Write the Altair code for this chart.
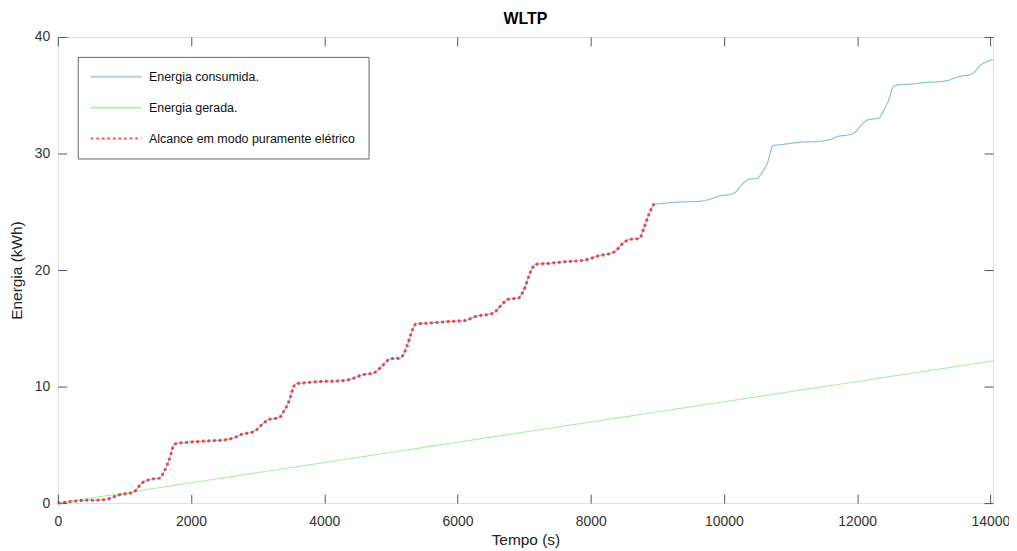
import altair as alt
import pandas as pd

# ---- data ----
tempo_consumida = [0, 55, 254, 404, 628, 778, 927, 1050, 1127, 1276, 1401, 1526, 1600, 1675, 1750, 1800,
                   1899, 2199, 2498, 2647, 2747, 2946, 3096, 3171, 3320, 3395, 3470, 3545, 3580,
                   3694, 3919, 4218, 4417, 4567, 4742, 4866, 4991, 5141, 5240, 5315, 5380,
                   5564, 5863, 6112, 6262, 6536, 6661, 6761, 6910, 6985, 7110, 7170,
                   7359, 7608, 7907, 8107, 8356, 8481, 8581, 8730, 8805, 8880, 8955, 9000,
                   9054, 9353, 9602, 9801, 9926, 10076, 10176, 10275, 10375, 10500, 10575, 10649, 10739,
                   10874, 10948, 11148, 11397, 11596, 11721, 11871, 11970, 12070, 12170, 12320, 12395, 12469, 12544, 12594,
                   12793, 13042, 13217, 13341, 13466, 13591, 13690, 13765, 13840, 13940, 14015, 14040]
energia_consumida = [0, 0.03, 0.17, 0.24, 0.26, 0.40, 0.71, 0.82, 0.91, 1.77, 2.05, 2.14, 2.76, 3.76, 5.04, 5.13,
                     5.19, 5.32, 5.42, 5.61, 5.87, 6.15, 6.89, 7.18, 7.32, 7.89, 8.74, 10.03, 10.26,
                     10.31, 10.43, 10.48, 10.66, 11.0, 11.17, 11.74, 12.37, 12.45, 13.44, 14.73, 15.38,
                     15.44, 15.58, 15.67, 16.0, 16.3, 17.0, 17.5, 17.58, 18.15, 20.0, 20.49,
                     20.57, 20.71, 20.85, 21.2, 21.56, 22.28, 22.62, 22.71, 23.7, 24.85, 25.64, 25.67,
                     25.70, 25.84, 25.88, 26.1, 26.35, 26.47, 26.69, 27.38, 27.78, 27.87, 28.40, 29.12, 30.68,
                     30.77, 30.83, 30.97, 31.03, 31.2, 31.48, 31.6, 31.82, 32.48, 32.91, 33.02, 33.68, 34.53, 35.75, 35.87,
                     35.95, 36.1, 36.15, 36.24, 36.47, 36.67, 36.75, 37.0, 37.52, 37.86, 38.03, 38.05]

tempo_gerada = [0, 6610, 14040]
energia_gerada = [0, 5.75, 12.2]

limite_eletrico = 9000  # end of the pure-electric range (s)

series = ["Energia consumida.", "Energia gerada.", "Alcance em modo puramente elétrico"]
cores = ["#8cbfe6", "#90ee90", "#ff0000"]
x_ticks = [0, 2000, 4000, 6000, 8000, 10000, 12000, 14000]
y_ticks = [0, 10, 20, 30, 40]

W, H = 939, 468
FONT = "Liberation Sans"

df_cons = pd.DataFrame({"t": tempo_consumida, "e": energia_consumida, "serie": series[0]})
df_ger = pd.DataFrame({"t": tempo_gerada, "e": energia_gerada, "serie": series[1]})
df_ele = df_cons[df_cons["t"] <= limite_eletrico].assign(serie=series[2])

xs = alt.Scale(domain=[0, 14040], nice=False, zero=False)
ys = alt.Scale(domain=[0, 40], nice=False)

legend_cfg = alt.Legend(
    title=None, orient="none", legendX=20, legendY=20,
    fillColor="white", strokeColor="#666666", padding=13,
    symbolType="M-4.25,0H4.25", symbolSize=144, symbolOffset=18.5, symbolStrokeWidth=2,
    labelOffset=26, rowPadding=17, labelFontSize=12.5, labelFont=FONT,
    labelColor="#111111", cornerRadius=0, labelLimit=400)

color_enc = alt.Color("serie:N", scale=alt.Scale(domain=series, range=cores), legend=legend_cfg)
dash_enc = alt.StrokeDash("serie:N", scale=alt.Scale(domain=series, range=[[1, 0], [1, 0], [2.6, 3.0]]),
                          legend=legend_cfg)

tick_style = dict(tickColor="#555555", tickSize=9, labels=False, domain=False, title=None, grid=False)

blue = alt.Chart(df_cons).mark_line(interpolate="monotone", strokeWidth=1.2).encode(
    x=alt.X("t:Q", scale=xs, axis=alt.Axis(orient="bottom", values=x_ticks, ticks=False, domain=False,
                                           grid=False, labelFontSize=14, labelPadding=11, labelFont=FONT,
                                           labelColor="#333333", title="Tempo (s)", titleFontSize=15.5,
                                           titleFontWeight="normal", titleFont=FONT, titleColor="#222222",
                                           titlePadding=5, labelFlush=False, format="d")),
    y=alt.Y("e:Q", scale=ys, axis=alt.Axis(orient="left", values=y_ticks, ticks=False, domain=False,
                                           grid=False, labelFontSize=14, labelPadding=8, labelFont=FONT,
                                           labelColor="#333333", title="Energia (kWh)", titleFontSize=15.5,
                                           titleFontWeight="normal", titleFont=FONT, titleColor="#222222",
                                           titlePadding=10, labelFlush=False)),
    color=color_enc, strokeDash=dash_enc,
)

green = alt.Chart(df_ger).mark_line(strokeWidth=1.0).encode(
    x=alt.X("t:Q", scale=xs, axis=alt.Axis(orient="top", offset=-H, values=x_ticks, **tick_style)),
    y=alt.Y("e:Q", scale=ys, axis=alt.Axis(orient="right", offset=-W, values=y_ticks, **tick_style)),
    color=color_enc, strokeDash=dash_enc,
)

red = alt.Chart(df_ele).mark_line(interpolate="monotone", opacity=0.7, strokeWidth=3).encode(
    x=alt.X("t:Q", scale=xs, axis=alt.Axis(orient="bottom", offset=-H, values=x_ticks, **tick_style)),
    y=alt.Y("e:Q", scale=ys, axis=alt.Axis(orient="left", offset=-W, values=y_ticks, **tick_style)),
    color=color_enc, strokeDash=dash_enc,
)

chart = alt.layer(blue, green, red).resolve_axis(x="independent", y="independent").properties(
    width=W, height=H,
    title=alt.Title("WLTP", fontSize=16, fontWeight="bold", font=FONT, color="#000000", offset=3, anchor="middle"),
    autosize=alt.AutoSizeParams(type="none"),
    padding={"left": 50, "top": 28, "right": 16, "bottom": 44},
).configure_view(stroke="#555555", strokeWidth=1).configure(font=FONT, background="white")

chart.save("out.html", embed_options={"renderer": "svg", "actions": False})
